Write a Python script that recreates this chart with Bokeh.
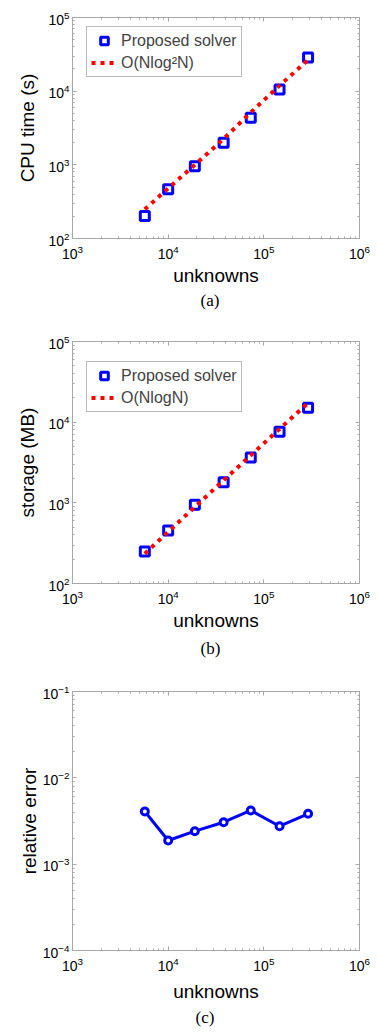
from bokeh.plotting import figure
from bokeh.layouts import column
from bokeh.models import (LogAxis, FixedTicker, Legend, LegendItem, Title,
                          Range1d, LogTickFormatter)
from bokeh.embed import file_html
from bokeh.resources import INLINE

# ---------------- data ----------------
unknowns = [5700, 10000, 19000, 38000, 73000, 146000, 290000]

cpu_time = [202, 465, 960, 1990, 4340, 10500, 28700]
cpu_fit = [249, 480, 1000, 2250, 5150, 11900, 26500]

storage = [250, 455, 945, 1800, 3650, 7590, 15100]
storage_fit = [234, 437, 889, 1903, 3883, 8246, 17300]

rel_error = [0.00407, 0.00188, 0.00241, 0.00306, 0.00419, 0.00275, 0.00383]

x_major = [1e3, 1e4, 1e5, 1e6]
y_major_a = [1e2, 1e3, 1e4, 1e5]
y_major_c = [1e-4, 1e-3, 1e-2, 1e-1]

FONT = "Liberation Sans"
SERIF = "Liberation Serif"
GRAY = "#a8a8a8"
BLUE = "#0000ff"
RED = "#ff0000"
W = 378


def minor_of(major):
    out = []
    for m in major[:-1]:
        out += [m * k for k in range(2, 10)]
    return out


def style_axis(ax, ticks, show_labels=True, label=None, lab_standoff=3,
               tick_standoff=3):
    ax.ticker = FixedTicker(ticks=ticks, minor_ticks=minor_of(ticks))
    ax.axis_line_color = GRAY
    ax.major_tick_line_color = GRAY
    ax.minor_tick_line_color = GRAY
    ax.major_tick_in = 4
    ax.major_tick_out = 0
    ax.minor_tick_in = 2
    ax.minor_tick_out = 0
    ax.major_label_text_font = FONT
    ax.major_label_text_color = "black"
    if show_labels:
        ax.major_label_text_font_size = "14px"
        ax.major_label_standoff = tick_standoff
    else:
        ax.major_label_text_font_size = "2px"
        ax.major_label_text_alpha = 0
        ax.major_label_standoff = 0
    if label is not None:
        ax.axis_label = label
        ax.axis_label_text_font = FONT
        ax.axis_label_text_font_style = "normal"
        ax.axis_label_text_font_size = "19px"
        ax.axis_label_text_color = "black"
        ax.axis_label_standoff = lab_standoff


def make_fig(height, yr, yticks, bl, bt, bb, br, ylabel, ystand, xstand):
    p = figure(width=W, height=height, x_axis_type="log", y_axis_type="log",
               x_range=Range1d(1e3, 1e6), y_range=Range1d(*yr),
               output_backend="svg", toolbar_location=None,
               min_border_left=bl, min_border_top=bt,
               min_border_bottom=bb, min_border_right=br)
    p.grid.visible = False
    p.outline_line_color = GRAY
    p.background_fill_color = "white"
    p.border_fill_color = "white"
    style_axis(p.xaxis[0], x_major, True, "unknowns", xstand, 6)
    style_axis(p.yaxis[0], yticks, True, ylabel, ystand, 3)
    top = LogAxis(formatter=LogTickFormatter())
    style_axis(top, x_major, False)
    right = LogAxis(formatter=LogTickFormatter())
    style_axis(right, yticks, False)
    p.add_layout(top, "above")
    p.add_layout(right, "right")
    return p


def make_legend(items, loc):
    leg = Legend(items=items, location=loc,
                 label_text_font=FONT, label_text_font_size="16px",
                 label_height=19, glyph_height=19, glyph_width=26,
                 label_standoff=4, padding=4, spacing=3, margin=0,
                 border_line_color="#777777", border_line_width=1,
                 background_fill_color="white", background_fill_alpha=1)
    return leg


def caption(p, text, offset, standoff):
    p.add_layout(Title(text=text, align="left", offset=offset,
                       text_font=SERIF, text_font_size="17px",
                       text_font_style="normal", text_color="black",
                       standoff=standoff), "below")


# ---------------- (a) CPU time ----------------
pa = make_fig(328, (1e2, 1e5), y_major_a, 67, 17, 90, 19, "CPU time (s)", 7, 3)
ra_sq = pa.scatter(unknowns, cpu_time, marker="square", size=9,
                   line_color=BLUE, line_width=3, fill_color=None)
ra_fit = pa.line(unknowns, cpu_fit, line_color=RED, line_width=4,
                 line_dash="4 5")
pa.add_layout(make_legend([
    LegendItem(label="Proposed solver", renderers=[ra_sq]),
    LegendItem(label="O(Nlog\u00b2N)", renderers=[ra_fit])], (14, 161)))
caption(pa, "(a)", 128, 0)

# ---------------- (b) storage ----------------
pb = make_fig(348, (1e2, 1e5), y_major_a, 67, 13, 93, 17, "storage (MB)", 7, 3)
rb_sq = pb.scatter(unknowns, storage, marker="square", size=9,
                   line_color=BLUE, line_width=3, fill_color=None)
rb_fit = pb.line(unknowns, storage_fit, line_color=RED, line_width=4,
                 line_dash="4 5")
pb.add_layout(make_legend([
    LegendItem(label="Proposed solver", renderers=[rb_sq]),
    LegendItem(label="O(NlogN)", renderers=[rb_fit])], (14, 171)))
caption(pb, "(b)", 128, 6)

# ---------------- (c) relative error ----------------
pc = make_fig(358, (1e-4, 1e-1), y_major_c, 72, 15, 84, 19, "relative error", 0, 7)
pc.line(unknowns, rel_error, line_color=BLUE, line_width=3)
pc.scatter(unknowns, rel_error, marker="circle", size=7,
           line_color=BLUE, line_width=3, fill_color="white")
caption(pc, "(c)", 123, 2)

layout = column(pa, pb, pc, spacing=0)
open("out.html", "w").write(file_html(layout, INLINE))
